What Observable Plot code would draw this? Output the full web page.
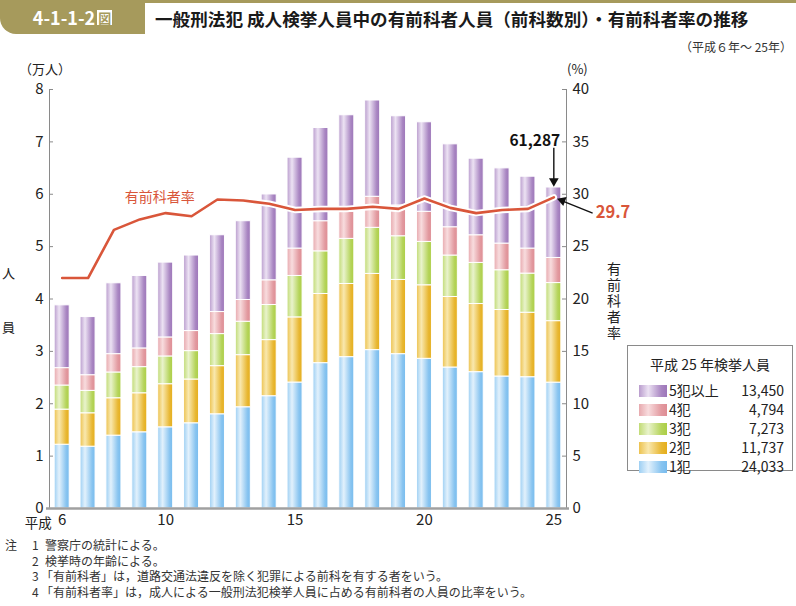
<!DOCTYPE html>
<html lang="ja"><head><meta charset="utf-8">
<script src="https://cdn.jsdelivr.net/npm/d3@7"></script>
<script src="https://cdn.jsdelivr.net/npm/@observablehq/plot@0.6"></script>
<style>
html,body{margin:0;padding:0}
body{width:796px;height:606px;position:relative;background:#fff;overflow:hidden;
  font-family:"Noto Sans CJK JP","Noto Sans",sans-serif;color:#222}
.abs{position:absolute;white-space:nowrap}
#topline{left:0;top:0;width:796px;height:3px;background:#a69a5c}
#badge{left:0;top:0;width:145px;height:34px;background:#a69a5c;border-bottom-left-radius:16px;
  color:#fff;font-weight:bold;font-size:18px;line-height:34px;text-align:center}
#badge .zu{display:inline-block;background:#fff;color:#a69a5c;font-size:13px;line-height:15px;width:15px;height:15px;
  vertical-align:2px;margin-left:2px;text-align:center}
#title{left:155px;top:5px;font-size:17.6px;font-weight:bold;line-height:28px;color:#1a1a1a}
#period{right:4px;top:38px;font-size:12px;color:#333}
#chart{left:0;top:56px}
.lab{font-size:13px;line-height:14px;color:#222}
#vrate{left:606px;top:262px;writing-mode:vertical-rl;font-size:14px;letter-spacing:2px;line-height:16px}
#legend{left:627px;top:345px;width:164px;height:124px;border:1px solid #8a8a8a;background:#fff;font-size:14px;color:#222}
#legend .ttl{position:absolute;left:0;width:164px;top:9px;text-align:center;line-height:18px}
#legend .row{position:absolute;left:11px;width:145px;height:19px;line-height:19px}
#legend .sw{position:absolute;left:0;top:4px;width:28px;height:12px}
#legend .nm{position:absolute;left:30px;top:0}
#legend .vl{position:absolute;right:0;top:0}
#notes{left:5px;top:537px;font-size:12px;line-height:15.5px;color:#333}
#notes div{position:relative;height:15.5px}
#notes .k{position:absolute;left:0}
#notes .n{position:absolute;left:27px}
#notes .t{position:absolute;left:40px}
#notes .t.br{left:36px}
</style></head>
<body>
<div id="topline" class="abs"></div>
<div id="badge" class="abs">4-1-1-2<span class="zu">図</span></div>
<div id="title" class="abs">一般刑法犯 成人検挙人員中の有前科者人員（前科数別）・有前科者率の推移</div>
<div id="period" class="abs">（平成６年～ 25年）</div>
<div class="abs lab" style="left:19px;top:62px">（万人）</div>
<div class="abs lab" style="left:567px;top:62px">(%)</div>
<div class="abs lab" style="left:2px;top:266px">人</div>
<div class="abs lab" style="left:2px;top:320px">員</div>
<div id="vrate" class="abs">有前科者率</div>
<div id="chart" class="abs"></div>
<div id="legend" class="abs"></div>
<div id="notes" class="abs"></div>
<script>
// ---- data (persons) ----
const years = [6,7,8,9,10,11,12,13,14,15,16,17,18,19,20,21,22,23,24,25];
const crime1 = [12180,11800,13910,14550,15500,16270,17990,19330,21440,24050,27750,28900,30240,29470,28580,26920,26030,25200,25070,24033];
const crime2 = [6700,6380,7140,7450,8230,8360,9190,9950,10710,12440,13210,13970,14550,14170,14040,13460,13010,12700,12310,11737];
const crime3 = [4600,4280,4920,4990,5300,5420,6120,6380,6700,7910,8140,8610,8800,8340,8280,7920,7850,7590,7470,7273];
const crime4 = [3320,2990,3500,3570,3630,3830,4210,4150,4720,5230,5750,5170,5930,5880,5750,5400,5280,5090,4780,4794];
const crime5 = [11990,11100,13530,13840,14290,14420,14660,15040,16390,17350,17800,18430,18380,17030,17090,15830,14620,14360,13720,13450];
const rate = [22.0,22.0,26.6,27.6,28.2,27.9,29.5,29.4,29.1,28.5,28.6,28.6,28.8,28.6,29.6,28.7,28.2,28.5,28.6,29.7];
const categories = ["1犯","2犯","3犯","4犯","5犯以上"];
const series = [crime1, crime2, crime3, crime4, crime5];
const leftTicks = [0,1,2,3,4,5,6,7,8];
const xTicks = [6,10,15,20,25];
const noteLines = [
  ["注","1","警察庁の統計による。"],
  ["","2","検挙時の年齢による。"],
  ["","3","「有前科者」は，道路交通法違反を除く犯罪による前科を有する者をいう。"],
  ["","4","「有前科者率」は，成人による一般刑法犯検挙人員に占める有前科者の人員の比率をいう。"]
];

// ---- styles ----
const palette = [
  {base:"#78bcee", light:"#e2f1fc"},
  {base:"#e5ae1c", light:"#f9e8ae"},
  {base:"#acce46", light:"#e9f3cc"},
  {base:"#de8d94", light:"#f8dcde"},
  {base:"#9d76b9", light:"#ece2f3"}
];
const RED = "#d9563a";
const FONT = '"Noto Sans CJK JP","Noto Sans",sans-serif';
const HALF = 0.29;
const X_DOMAIN = [5.51, 25.49];

// stacked rows (万人 units)
const rows = [];
years.forEach((yr, i) => {
  let acc = 0;
  series.forEach((s, k) => {
    const v = s[i] / 10000;
    rows.push({year: yr, cat: k, y1: acc, y2: acc + v});
    acc += v;
  });
});
const totals = years.map((_, i) => d3.sum(series, s => s[i]));
const rateRows = years.map((yr, i) => ({year: yr, r: rate[i] / 5}));
const last = years.length - 1;

function mix(a, b, t) { return d3.interpolateRgb(a, b)(t); }

const defsMark = () => {
  const ns = "http://www.w3.org/2000/svg";
  const defs = document.createElementNS(ns, "defs");
  palette.forEach((p, k) => {
    const g = document.createElementNS(ns, "linearGradient");
    g.setAttribute("id", "g" + k);
    g.setAttribute("x1", "0"); g.setAttribute("x2", "1");
    g.setAttribute("y1", "0"); g.setAttribute("y2", "0");
    [[0, mix(p.base, p.light, 0.35)], [0.33, p.light], [0.8, mix(p.base, p.light, 0.15)], [1, p.base]].forEach(([o, c]) => {
      const s = document.createElementNS(ns, "stop");
      s.setAttribute("offset", o); s.setAttribute("stop-color", c);
      g.appendChild(s);
    });
    defs.appendChild(g);
  });
  return defs;
};

const plot = Plot.plot({
  width: 796, height: 474,
  marginLeft: 49, marginRight: 230, marginTop: 33, marginBottom: 22,
  x: {type: "linear", domain: X_DOMAIN, axis: null},
  y: {domain: [0, 8], axis: null},
  style: {fontFamily: FONT, fontSize: "15px", color: "#222", background: "transparent", overflow: "visible"},
  marks: [
    defsMark,
    ...categories.map((c, k) => Plot.rectY(rows.filter(d => d.cat === k), {
      x1: d => d.year - HALF, x2: d => d.year + HALF, y1: "y1", y2: "y2",
      fill: `url(#g${k})`, stroke: "white", strokeWidth: 1
    })),
    Plot.ruleX([X_DOMAIN[0]], {stroke: "#8a8a8a", strokeWidth: 1}),
    Plot.ruleX([X_DOMAIN[1]], {stroke: "#8a8a8a", strokeWidth: 1}),
    Plot.ruleY(leftTicks.slice(1), {y: d => d, insetRight: 513, stroke: "#8a8a8a"}),
    Plot.ruleY(leftTicks.slice(1), {y: d => d, insetLeft: 513, stroke: "#8a8a8a"}),
    Plot.ruleY([0], {stroke: "#a0a0a0", strokeWidth: 2.5, insetLeft: -3, insetRight: -3}),
    Plot.axisY({anchor: "left", ticks: leftTicks, tickSize: 0, tickPadding: 6, fontSize: 15, label: null}),
    Plot.axisY({anchor: "right", ticks: leftTicks, tickSize: 0, tickPadding: 6, fontSize: 15, label: null, tickFormat: d => d * 5}),
    Plot.axisX({ticks: xTicks, tickSize: 0, tickPadding: 6, fontSize: 15, label: null}),
    Plot.text(["平成"], {x: xTicks[0], y: 0, dx: -24, dy: 15, fontSize: 13.5}),
    Plot.line(rateRows, {x: "year", y: "r", stroke: "white", strokeWidth: 6.5, strokeLinejoin: "round"}),
    Plot.line(rateRows, {x: "year", y: "r", stroke: RED, strokeWidth: 2.6, strokeLinejoin: "round"}),
    Plot.text([rateRows[4]], {x: "year", y: "r", text: () => "有前科者率", dx: -6, dy: -16, fill: RED, fontSize: 14}),
    // total annotation
    Plot.link([totals[last] / 10000], {x1: years[last], x2: years[last], y1: d => d + 0.76, y2: d => d + 0.12, stroke: "#111", strokeWidth: 1.4}),
    Plot.dot([totals[last] / 10000], {x: years[last], y: d => d, dy: -6.4, symbol: "triangle", rotate: 180, r: 3.6, fill: "#111", stroke: "none"}),
    Plot.text([totals[last]], {x: years[last], y: d => d / 10000 + 0.88, dx: -19, text: d => d3.format(",")(d), fontSize: 15.5, fontWeight: "bold", fill: "#111"}),
    // rate annotation
    Plot.link([rate[last] / 5], {x1: years[last] + 1.5, y1: d => d - 0.3, x2: years[last] + 0.3, y2: d => d - 0.06, stroke: "#111", strokeWidth: 1.4}),
    Plot.dot([rate[last] / 5], {x: years[last], y: d => d, dx: 8.5, dy: 3.2, symbol: "triangle", rotate: -70, r: 3.6, fill: "#111", stroke: "none"}),
    Plot.text([rate[last]], {x: years[last] + 1.62, y: d => d / 5 - 0.3, text: d => d.toFixed(1), textAnchor: "start", fontSize: 16.5, fontWeight: "bold", fill: RED})
  ]
});
document.getElementById("chart").appendChild(plot);

// legend
const lg = document.getElementById("legend");
lg.innerHTML = `<div class="ttl">平成 ${years[last]} 年検挙人員</div>`;
const order = [4,3,2,1,0];
order.forEach((k, j) => {
  const p = palette[k];
  const row = document.createElement("div");
  row.className = "row";
  row.style.top = (35 + j * 19) + "px";
  row.innerHTML = `<div class="sw" style="background:linear-gradient(to right, ${mix(p.base,p.light,0.35)} 0%, ${p.light} 33%, ${mix(p.base,p.light,0.15)} 80%, ${p.base} 100%)"></div>` +
    `<div class="nm">${categories[k]}</div><div class="vl">${d3.format(",")(series[k][last])}</div>`;
  lg.appendChild(row);
});

// notes
const nt = document.getElementById("notes");
noteLines.forEach(([k, n, t]) => {
  const d = document.createElement("div");
  const cls = t.startsWith("「") ? "t br" : "t";
  d.innerHTML = `<span class="k">${k}</span><span class="n">${n}</span><span class="${cls}">${t}</span>`;
  nt.appendChild(d);
});
</script>
</body></html>
